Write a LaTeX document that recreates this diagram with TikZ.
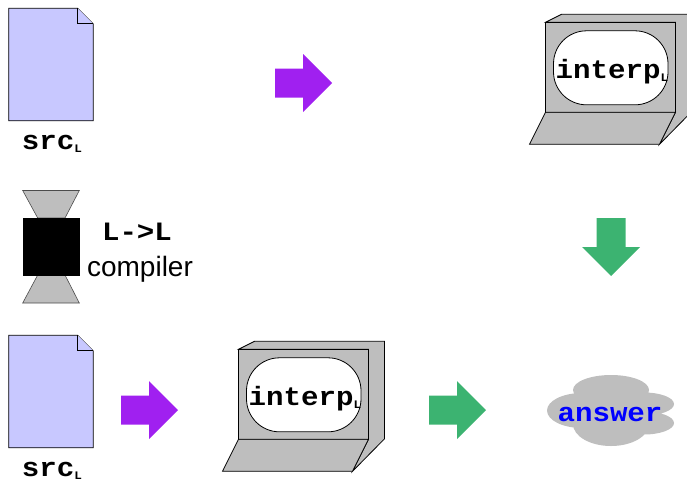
\documentclass[tikz,border=0pt]{standalone}
\usepackage{fontspec}
\setmainfont{Liberation Sans}
\setmonofont[FakeStretch=1.1]{Liberation Mono}
\definecolor{docblue}{HTML}{C8C8FF}
\definecolor{panel}{HTML}{BEBEBE}
\definecolor{arrowpurple}{HTML}{A020F0}
\definecolor{arrowgreen}{HTML}{3CB371}
\newcommand{\codefont}{\fontsize{26.5}{30}\selectfont\ttfamily\bfseries}
\newcommand{\subL}{\raisebox{-3pt}{\fontsize{11.5}{12}\selectfont\ttfamily\bfseries L}}
\tikzset{
  x=1pt,y=-1pt,
  outline/.style={draw=black,line width=0.8pt,line join=miter},
  codetext/.style={inner sep=0pt,font=\codefont},
  pics/docfile/.style={code={
    \draw[outline,fill=docblue] (0,0) -- (69,0) -- (84.5,15.5) -- (84.5,112.5) -- (0,112.5) -- cycle;
    \draw[outline,fill=docblue] (69,0) -- (69,15.5) -- (84.5,15.5);
  }},
  pics/computer/.style={code={
    \draw[outline,fill=panel] (0,0) -- (16,-8) -- (146,-8) -- (146,89.5) -- (114,122) -- (130,90) -- (130,0) -- cycle;
    \draw[outline,fill=panel] (0,0) rectangle (130,90);
    \draw[outline,fill=panel] (0,90) -- (130,90) -- (114,122) -- (-16,122) -- cycle;
    \draw[outline,fill=white,rounded corners=33pt] (8,8.5) rectangle (122.5,82.5);
  }},
  pics/rightarrow/.style={code={
    \fill[#1] (0,-14.5) -- (28,-14.5) -- (28,-29) -- (57,0) -- (28,29) -- (28,14.5) -- (0,14.5) -- cycle;
  }},
  pics/downarrow/.style={code={
    \fill[#1] (-14.5,0) -- (14.5,0) -- (14.5,29) -- (29,29) -- (0,58) -- (-29,29) -- (-14.5,29) -- cycle;
  }},
}
\begin{document}
\begin{tikzpicture}
\useasboundingbox (0,0) rectangle (687,485);
\clip (0,0) rectangle (687,485);

\path (8.7,8.3) pic {docfile};
\node[codetext] (srcA) at (52,144) {src\subL};

\path (275,83) pic {rightarrow=arrowpurple};

\path (545.5,22.3) pic {computer};
\node[codetext] (interpA) at (612,72) {interp\subL};

\path (611,218) pic {downarrow=arrowgreen};

\draw[outline,draw=black!70,fill=panel,line width=0.6pt] (22.7,190.5) -- (79.3,190.5) -- (65,218) -- (37.7,218) -- cycle;
\draw[outline,draw=black!70,fill=panel,line width=0.6pt] (37.7,275) -- (65,275) -- (79.3,303) -- (22.7,303) -- cycle;
\fill[black] (22.5,218) rectangle (80,275.5);
\node[codetext] (llabel) at (137,232) {L->L};
\node[inner sep=0pt,font=\fontsize{28}{30}\selectfont] (comp) at (140,269) {compiler};

\path (8.7,335.3) pic {docfile};
\node[codetext] (srcB) at (52,471) {src\subL};

\path (121,410) pic {rightarrow=arrowpurple};

\path (238.5,349.3) pic {computer};
\node[codetext] (interpB) at (305,399) {interp\subL};

\path (429,410) pic {rightarrow=arrowgreen};

\fill[panel] (611,390) ellipse[x radius=38,y radius=15]
  (582,410.5) ellipse[x radius=35,y radius=17.5]
  (644,404) ellipse[x radius=30,y radius=11.5]
  (644,423) ellipse[x radius=30,y radius=11.5]
  (611,424) ellipse[x radius=38,y radius=22];
\node[codetext,text=blue] (ans) at (610,414) {answer};
\end{tikzpicture}
\end{document}
